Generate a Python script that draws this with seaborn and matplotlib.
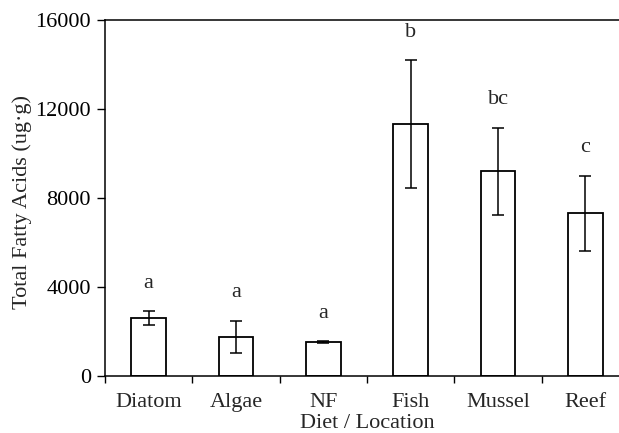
import matplotlib
matplotlib.use("Agg")
import matplotlib.pyplot as plt
import seaborn as sns
import pandas as pd
import numpy as np
from matplotlib.ticker import FixedLocator

categories = ["Diatom", "Algae", "NF", "Fish", "Mussel", "Reef"]
means = [2590, 1770, 1530, 11330, 9200, 7310]
errors = [310, 720, 50, 2860, 1960, 1690]
letters = ["a", "a", "a", "b", "bc", "c"]
yticks = [0, 4000, 8000, 12000, 16000]

sns.set_theme(style="ticks")
plt.rcParams["font.family"] = ["Liberation Serif", "DejaVu Serif"]
fs = 16

df = pd.DataFrame({"cat": categories, "val": means})

fig = plt.figure(figsize=(6.19, 4.33), dpi=100)
ax = fig.add_axes([105/619, 57/433, 524/619, 356/433])

sns.barplot(data=df, x="cat", y="val", order=categories, color="white",
            edgecolor="black", linewidth=1.3, width=0.4, errorbar=None, ax=ax)
xs = np.arange(len(categories))
ax.errorbar(xs, means, yerr=errors, fmt="none", ecolor="black",
            elinewidth=1.1, capsize=4, capthick=1.1)
for x, m, e, l in zip(xs, means, errors, letters):
    ax.annotate(l, (x, m + e), xytext=(0, 20), textcoords="offset points",
                ha="center", va="center", fontsize=fs)

ax.set_xlim(-0.5, 5.5)
ax.set_ylim(0, 16000)
ax.set_yticks(yticks)
ax.set_yticklabels([str(t) for t in yticks])
ax.tick_params(axis="y", direction="out", length=6, width=1, pad=4, labelsize=fs, colors="black")
ax.tick_params(axis="x", which="major", length=0, pad=12, labelsize=fs)
ax.xaxis.set_minor_locator(FixedLocator(np.arange(-0.5, 6, 1.0)))
ax.tick_params(axis="x", which="minor", direction="out", length=5, width=1, color="black")
for s in ["left", "bottom", "top"]:
    ax.spines[s].set_color("black")
    ax.spines[s].set_linewidth(1.1)
ax.spines["right"].set_visible(False)
ax.set_xlabel("Diet / Location", fontsize=fs, labelpad=2)
ax.set_ylabel("Total Fatty Acids (ug·g)", fontsize=fs)
ax.yaxis.set_label_coords(-0.14, 0.49)
ax.set_facecolor("white")

fig.savefig("out.png", dpi=100)
